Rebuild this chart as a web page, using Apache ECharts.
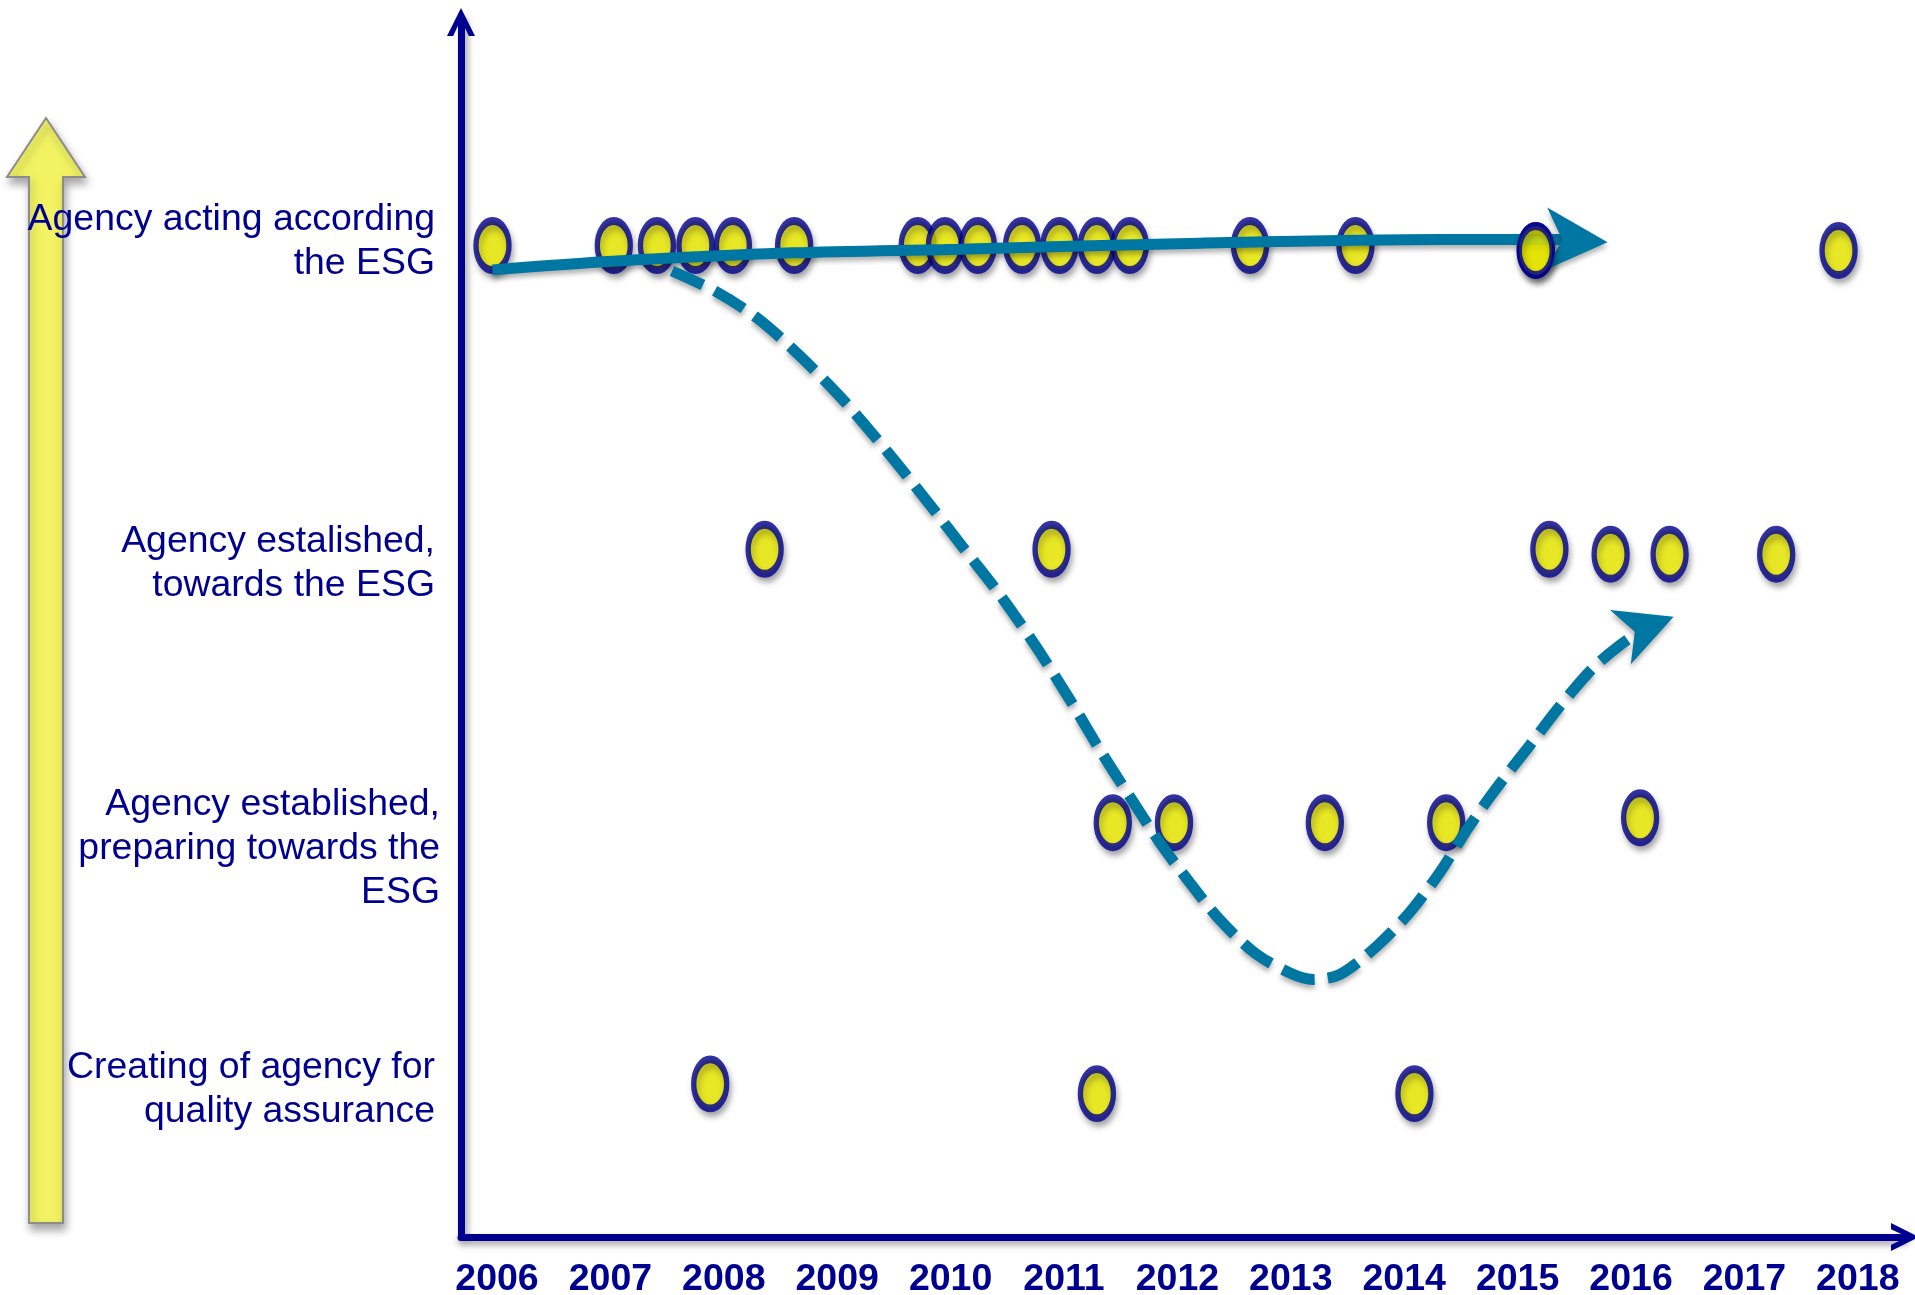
<!DOCTYPE html>
<html>
<head>
<meta charset="utf-8">
<title>Agency development towards the ESG</title>
<script src="https://cdn.jsdelivr.net/npm/echarts@6/dist/echarts.min.js"></script>
<style>
  html, body { margin: 0; padding: 0; background: #ffffff; }
  #chart { width: 1915px; height: 1295px; }
</style>
</head>
<body>
<div id="chart"></div>
<script>
// Years shown on the time axis
const years = [2006, 2007, 2008, 2009, 2010, 2011, 2012, 2013, 2014, 2015, 2016, 2017, 2018];

// Development stages (bottom to top) and where their captions sit on the stage scale
const stageNames = [
  'Creating of agency for\nquality assurance',
  'Agency established,\npreparing towards the\nESG',
  'Agency estalished,\ntowards the ESG',
  'Agency acting according\nthe ESG'
];
const stageLabelAt = [12.15, 31.95, 55.4, 81.9];

// Agencies per stage: [time of assessment, stage score 0-100]
const creating = [[2007.88, 12.6], [2011.29, 11.8], [2014.09, 11.8]];
const preparing = [[2011.43, 34.1], [2011.97, 34.1], [2013.30, 34.1], [2014.37, 34.1], [2016.08, 34.5]];
const towards = [[2008.36, 56.6], [2010.89, 56.6], [2015.28, 56.6], [2015.82, 56.2], [2016.34, 56.2], [2017.28, 56.2]];
const acting = [
  [2005.96, 81.6], [2007.03, 81.6], [2007.41, 81.6], [2007.75, 81.6], [2008.08, 81.6], [2008.62, 81.6],
  [2009.71, 81.6], [2009.95, 81.6], [2010.24, 81.6], [2010.63, 81.6], [2010.96, 81.6], [2011.29, 81.6],
  [2011.58, 81.6], [2012.64, 81.6], [2013.57, 81.6], [2015.16, 81.2], [2017.83, 81.2]
];

// Trend paths: steady progress and the dip-and-recovery route
const steadyTrend = [
  [2005.96, 79.6], [2007.02, 80.3], [2008.61, 81.0], [2010.08, 81.3],
  [2012.20, 81.8], [2014.32, 82.1], [2015.42, 82.1], [2015.52, 82.0]
];
const dipTrend = [
  [2007.543, 79.51], [2007.922, 77.86], [2008.293, 75.64], [2008.672, 72.51], [2009.069, 68.72],
  [2009.466, 64.36], [2009.818, 60.25], [2010.127, 56.54], [2010.436, 52.84], [2010.744, 48.72],
  [2011.053, 44.20], [2011.317, 40.08], [2011.582, 36.21], [2011.847, 32.43], [2012.111, 29.14],
  [2012.376, 26.09], [2012.684, 23.37], [2012.993, 21.73], [2013.196, 21.20], [2013.434, 21.61],
  [2013.760, 23.95], [2014.051, 26.75], [2014.316, 30.04], [2014.563, 33.66], [2014.801, 36.79],
  [2015.109, 40.49], [2015.374, 43.70], [2015.665, 46.83], [2015.903, 48.72], [2016.141, 50.21]
];

const NAVY = '#000090';
const TREND = '#0076a3';
// Ellipse drawn at its real pixel size so the outline keeps its full width
const DOT = 'path://M16.5,0 A16.5,24.5 0 1,1 16.5,49 A16.5,24.5 0 1,1 16.5,0 Z';
const STEALTH = 'path://M50,0 L100,100 L50,73 L0,100 Z';
const CHEVRON = 'path://M0,100 L50,0 L100,100 L78,100 L50,40 L22,100 Z';
const FONT = '"Liberation Sans", Arial, sans-serif';

const chart = echarts.init(document.getElementById('chart'), null, { renderer: 'canvas' });

function stageSeries(name, data, z) {
  return {
    name: name,
    type: 'scatter',
    data: data,
    symbol: DOT,
    symbolSize: [33, 49],
    z: z || 2,
    silent: true,
    itemStyle: {
      color: '#f2f200',
      borderColor: NAVY,
      borderWidth: 6.5,
      shadowColor: 'rgba(0,0,0,0.35)',
      shadowBlur: 6,
      shadowOffsetX: 2,
      shadowOffsetY: 5
    }
  };
}

function trendSeries(name, points, dashed, head) {
  const last = points.length - 1;
  return {
    name: name,
    type: 'line',
    smooth: 0.3,
    symbol: 'none',
    showSymbol: true,
    z: 3,
    silent: true,
    data: points.map((p, i) => i === last
      ? { value: p, symbol: STEALTH, symbolSize: head.size, symbolRotate: head.rotate }
      : p),
    itemStyle: {
      color: TREND,
      borderWidth: 0,
      shadowColor: 'rgba(0,0,0,0.3)',
      shadowBlur: 5,
      shadowOffsetY: 4
    },
    lineStyle: {
      color: TREND,
      width: 11,
      type: dashed ? [34, 13] : 'solid',
      cap: 'butt',
      shadowColor: 'rgba(0,0,0,0.3)',
      shadowBlur: 5,
      shadowOffsetY: 4
    }
  };
}

const labelFont = { color: NAVY, fontFamily: FONT, fontSize: 37.4, lineHeight: 44 };

chart.setOption({
  animation: false,
  backgroundColor: '#ffffff',
  grid: { left: 461, right: 10, top: 22, bottom: 58, outerBoundsMode: 'none' },
  xAxis: {
    type: 'value',
    min: 2005.6825,
    max: 2018.416,
    splitLine: { show: false },
    axisTick: { show: false },
    axisLine: {
      onZero: false,
      symbol: ['none', CHEVRON],
      symbolSize: [34, 28],
      lineStyle: {
        color: NAVY, width: 7,
        shadowColor: 'rgba(0,0,0,0.35)', shadowBlur: 6, shadowOffsetY: 4
      }
    },
    axisLabel: {
      customValues: years,
      formatter: v => String(v),
      color: NAVY,
      fontFamily: FONT,
      fontWeight: 'bold',
      fontSize: 37.5,
      margin: 23.5
    }
  },
  yAxis: {
    type: 'value',
    min: 0,
    max: 100,
    splitLine: { show: false },
    axisTick: { show: false },
    axisLine: {
      onZero: false,
      symbol: ['none', CHEVRON],
      symbolSize: [34, 28],
      lineStyle: {
        color: NAVY, width: 7,
        shadowColor: 'rgba(0,0,0,0.35)', shadowBlur: 6, shadowOffsetX: 3
      }
    },
    axisLabel: {
      customValues: stageLabelAt,
      formatter: v => {
        const i = stageLabelAt.indexOf(v);
        if (i < 0) return '';
        const tag = i === 1 ? 'far' : 'near';
        return stageNames[i].split('\n').map(line => '{' + tag + '|' + line + '}').join('\n');
      },
      ...labelFont,
      align: 'right',
      margin: 21,
      rich: {
        near: { ...labelFont, padding: [0, 5, 0, 0] },
        far: { ...labelFont }
      }
    }
  },
  graphic: [{
    type: 'polygon',
    z: 0,
    silent: true,
    shape: {
      points: [[46, 118], [85, 177], [63, 177], [63, 1223], [29, 1223], [29, 177], [7, 177]]
    },
    style: {
      fill: '#f2f263',
      stroke: '#8c8c8c',
      lineWidth: 2,
      shadowColor: 'rgba(0,0,0,0.35)',
      shadowBlur: 8,
      shadowOffsetY: 6,
      shadowOffsetX: 2
    }
  }],
  series: [
    stageSeries('Creating of agency', creating),
    stageSeries('Preparing towards the ESG', preparing),
    stageSeries('Towards the ESG', towards),
    stageSeries('Acting according the ESG', acting),
    trendSeries('Steady progress', steadyTrend, false, { size: [63, 62], rotate: -93 }),
    trendSeries('Dip and recovery', dipTrend, true, { size: [58, 57], rotate: -69 }),
    // the 2015 agency sits in front of the arrow head of the steady trend
    stageSeries('Acting according the ESG (front)', acting.filter(p => p[0] > 2015 && p[0] < 2016), 4)
  ]
});
</script>
</body>
</html>
